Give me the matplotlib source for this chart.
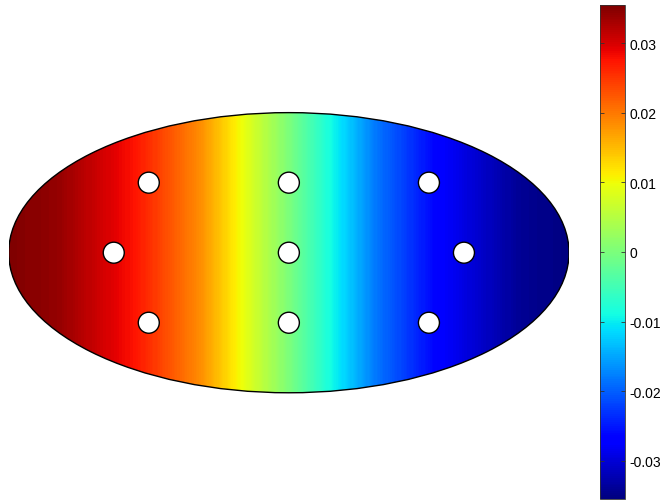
import numpy as np
import matplotlib
matplotlib.use('Agg')
from matplotlib import pyplot as plt
from matplotlib.patches import Ellipse, Circle
from matplotlib.cm import ScalarMappable
from matplotlib.colors import Normalize

plt.rcParams['font.family'] = ['Liberation Sans', 'DejaVu Sans']

# field profile read along the plate (x in plate units, plate is 4 wide x 2 high)
profile_x = [-2.0, -1.635, -1.083, -0.634, -0.327, 0.0, 0.323, 0.630, 1.086, 1.636, 2.0]
profile_val = [0.0355, 0.0340, 0.0273, 0.0185, 0.0096, 0.0, -0.0096, -0.0185, -0.0273, -0.0340, -0.0355]

# holes in the plate
hole_x = [-1.0, 0.0, 1.0, -1.25, 0.0, 1.25, -1.0, 0.0, 1.0]
hole_y = [0.5, 0.5, 0.5, 0.0, 0.0, 0.0, -0.5, -0.5, -0.5]
hole_r = 0.075

# colorbar
cb_min, cb_max = -0.0355, 0.0355
cb_ticks = [-0.03, -0.02, -0.01, 0, 0.01, 0.02, 0.03]
cb_labels = ['-0.03', '-0.02', '-0.01', '0', '0.01', '0.02', '0.03']

W, H = 667, 502
fig = plt.figure(figsize=(W / 100, H / 100), dpi=100)

# main axes placed so the plate spans its pixels
ax = fig.add_axes([8.7 / W, 38.2 / H, 560.3 / W, 420.2 / H])
ax.set_xlim(-2, 2)
ax.set_ylim(-1.5, 1.5)
ax.axis('off')

X, Y = np.meshgrid(profile_x, [-1.5, 1.5])
C = np.tile(profile_val, (2, 1))
levels = np.linspace(cb_min, cb_max, 300)
cs = ax.contourf(X, Y, C, levels=levels, cmap='jet', vmin=cb_min, vmax=cb_max,
                 antialiased=False)

plate = Ellipse((0, 0), 4, 2, facecolor='none', edgecolor='none')
ax.add_patch(plate)
cs.set_clip_path(plate)

ax.add_patch(Ellipse((0, 0), 4, 2, facecolor='none', edgecolor='black', lw=1.0, zorder=3))
for hx, hy in zip(hole_x, hole_y):
    ax.add_patch(Circle((hx, hy), hole_r, facecolor='white', edgecolor='black', lw=1.0, zorder=4))

# colorbar
cax = fig.add_axes([600 / W, 2 / H, 25 / W, 494 / H])
sm = ScalarMappable(norm=Normalize(cb_min, cb_max), cmap='jet')
cb = fig.colorbar(sm, cax=cax)
cb.set_ticks(cb_ticks)
cb.set_ticklabels(cb_labels)
cb.outline.set_linewidth(0.6)
cb.outline.set_edgecolor('#333333')
cax.tick_params(axis='y', direction='in', length=3, width=0.6, color='#333333',
                left=True, right=True, labelsize=10, pad=3)

plt.savefig('out.png', dpi=100)
